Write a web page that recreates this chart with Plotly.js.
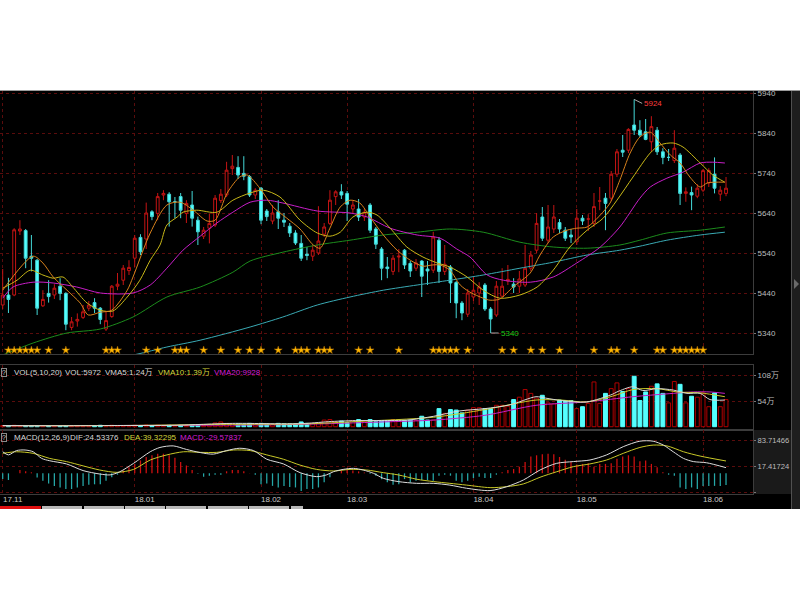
<!DOCTYPE html>
<html><head><meta charset="utf-8">
<script src="https://cdn.plot.ly/plotly-3.0.1.min.js"></script>
<style>
html,body{margin:0;padding:0;background:#fff;width:800px;height:600px;overflow:hidden;}
#topline{position:absolute;left:0;top:90px;width:800px;height:1px;background:#9a9a9a;}
#screen{position:absolute;left:0;top:91px;width:800px;height:418px;background:#000;overflow:hidden;}
#chart{position:absolute;left:0;top:0;width:800px;height:418px;}
#side{position:absolute;left:791px;top:0;width:9px;height:418px;background:#1e1e1e;border-left:1px solid #505050;box-sizing:border-box;}
#tri{position:absolute;left:2px;top:188px;width:0;height:0;border-top:5px solid transparent;border-bottom:5px solid transparent;border-left:5px solid #6a6a6a;}
.tab{position:absolute;top:415px;height:3px;background:#b8b8b8;}
</style></head>
<body>
<div id="topline"></div>
<div id="screen">
  <div id="chart"></div>
  <div id="side"><div id="tri"></div></div>
  <div class="tab" style="left:0;width:41px;background:#e01010"></div>
  <div class="tab" style="left:42px;width:40px"></div>
  <div class="tab" style="left:84px;width:40px"></div>
  <div class="tab" style="left:125px;width:40px"></div>
  <div class="tab" style="left:166px;width:40px"></div>
  <div class="tab" style="left:208px;width:40px"></div>
  <div class="tab" style="left:249px;width:40px"></div>
  <div class="tab" style="left:291px;width:12px"></div>
</div>
<script>
// ---------------- DATA ----------------
const openP  = [5410,5435,5435,5595,5596,5532,5522,5408,5439,5435,5457,5439,5354,5370,5379,5402,5416,5402,5350,5381,
 5457,5472,5496,5527,5579,5575,5643,5639,5685,5687,5668,5681,5639,5660,5622,5582,5602,5610,5671,5685,
 5751,5754,5739,5731,5685,5702,5645,5620,5643,5622,5607,5590,5564,5537,5532,5540,5587,5614,5681,5693,
 5689,5650,5650,5630,5660,5600,5550,5505,5494,5530,5547,5514,5502,5520,5500,5497,5572,5494,5505,5466,
 5415,5387,5430,5440,5460,5400,5385,5432,5470,5462,5457,5460,5502,5547,5630,5572,5600,5616,5597,5585,
 5568,5627,5625,5614,5670,5677,5677,5737,5797,5797,5860,5847,5843,5818,5847,5793,5779,5771,5785,5689,
 5691,5682,5697,5715,5737,5687,5689];
const highP  = [5500,5478,5602,5622,5600,5585,5525,5447,5472,5462,5477,5442,5380,5389,5410,5420,5427,5405,5393,5460,
 5490,5510,5522,5585,5587,5666,5647,5690,5697,5692,5680,5690,5672,5695,5631,5605,5639,5685,5700,5768,
 5785,5782,5782,5735,5702,5705,5650,5660,5672,5640,5615,5597,5585,5555,5560,5657,5615,5697,5697,5712,
 5695,5672,5675,5650,5665,5605,5555,5530,5535,5550,5550,5520,5525,5522,5520,5593,5580,5560,5510,5470,
 5420,5450,5480,5467,5465,5405,5470,5502,5510,5477,5495,5560,5545,5640,5655,5660,5660,5625,5605,5600,
 5650,5635,5637,5690,5705,5690,5745,5800,5835,5852,5924,5872,5875,5882,5855,5802,5800,5847,5790,5704,
 5706,5712,5750,5752,5779,5707,5730];
const lowP   = [5400,5390,5432,5585,5502,5494,5385,5405,5416,5425,5422,5347,5347,5356,5375,5395,5390,5362,5345,5378,
 5447,5460,5485,5505,5535,5550,5622,5622,5672,5606,5627,5627,5615,5606,5560,5575,5564,5605,5665,5680,
 5735,5725,5722,5680,5675,5612,5620,5612,5600,5605,5580,5560,5520,5522,5520,5535,5580,5610,5660,5675,
 5620,5640,5620,5620,5590,5550,5472,5477,5485,5492,5500,5480,5495,5430,5460,5490,5465,5485,5415,5377,
 5372,5380,5420,5410,5395,5340,5380,5430,5460,5440,5440,5455,5495,5540,5570,5565,5590,5590,5570,5565,
 5560,5610,5595,5605,5647,5597,5670,5730,5780,5790,5835,5830,5822,5793,5785,5762,5770,5765,5660,5668,
 5647,5677,5692,5705,5689,5670,5682];
const closeP = [5435,5424,5598,5600,5527,5527,5402,5424,5431,5452,5439,5362,5368,5374,5393,5410,5402,5374,5371,5457,
 5462,5502,5504,5577,5543,5640,5631,5681,5689,5668,5668,5647,5664,5627,5593,5597,5614,5677,5687,5747,
 5757,5735,5732,5685,5697,5622,5631,5640,5627,5617,5590,5565,5527,5534,5547,5570,5605,5672,5693,5685,
 5662,5660,5630,5642,5597,5562,5502,5501,5527,5532,5510,5495,5515,5482,5495,5580,5494,5512,5465,5415,
 5390,5440,5447,5455,5400,5375,5457,5457,5474,5455,5475,5502,5535,5614,5577,5605,5630,5600,5577,5580,
 5627,5620,5625,5656,5670,5664,5737,5793,5792,5849,5847,5835,5824,5856,5793,5779,5779,5802,5689,5693,
 5685,5702,5746,5746,5702,5697,5702];

// volume, in 万
const volume = [2.5,2,3,2,2,2,2.5,1.5,1.5,1.5,1.5,2,1.5,1.5,1.5,1.5,2,3,2.5,3,
 2.5,2.5,2.5,3,2.5,3.5,2.5,3,2.5,3,2.5,3,2.5,3.5,3.5,3,5,8,10,7,
 6,6,5,7,6,7,5.5,4,7,6,6,6,10,7,7,8,14,15,10.5,12,
 8.5,12.5,15,12,15,10.5,12,12,15,14,13,14,13,22,14,14,38,28,36,35,
 29,35,40,40,38,38,45,45,43,57,62,78,70,60,66,50,48,56,55,55,
 38,42,49,94,49,70,80,92,74,80,106,55,73,85,90,70,50,95,89,50,
 64,62,71,42,71,42,57];

// MACD histogram
const macdHist = [-14.7,-17,0.5,8.7,5.2,2.6,-10.4,-19,-26,-32,-36,-40,-40,-36,-32,-29,-28,-28,-19,-10,
 -3.5,7,15.6,24,33,41.6,46,50,50,46,40,28.6,20,8.7,-1,-8.7,-6,-3.5,-3.5,5.2,
 8.7,8.7,5.2,0.5,-3.5,-28,-26,-32,-36,-32,-35,-36,-45,-40,-40,-36,-23,-10,0.5,7,
 8.7,7,5,2,-2,-6,-15,-23,-29,-28,-14.7,-23,-19,-17,-17,-19,-6,-3.5,-6,-19,
 -23,-19,-12,-8.7,-12,-12,-3.5,2.6,8.7,11,17,28.6,43,46,48.5,50,48.5,41.6,34.7,28.6,
 22.5,24,26,17,24,24,26,37,43,46,43,31,33,24,15.6,2.6,-3.5,-6,-36,-40,
 -36,-40,-32,-32,-32,-32,-29.6];

// moving averages (index, value)
const ma5Idx = [0,5.3,7,8.8,11.2,13.5,14.9,17,19,21.7,22.7,25.7,28.6,30.9,33.2,35.6,37,39.1,41.3,42.6,44.8,47.1,49.5,51.8,54.1,55.3,57,58.8,60.5,62.2,64,66.3,68.7,71,73.2,74.8,76.2,77.9,79.7,81.4,83.7,84.9,86.6,88.9,91.9,93.6,95.9,98.3,100,101.8,104.1,105.8,107.5,109.3,111,112.8,114.5,116.3,118,119.7,121.5,122.7,124.1,125.8];
const ma5Val = [5447,5532,5515,5480,5447,5415,5385,5392,5397,5447,5480,5590,5660,5667,5647,5620,5622,5690,5730,5735,5702,5655,5627,5600,5560,5552,5602,5655,5672,5665,5630,5585,5547,5522,5507,5510,5510,5497,5460,5442,5427,5422,5425,5455,5490,5535,5580,5597,5602,5605,5635,5665,5722,5790,5830,5842,5815,5785,5765,5730,5705,5715,5717,5717];
const ma10Idx = [0,2.5,4.8,7,8.8,10.5,12.2,14.7,17,19.2,21.7,23.9,25.7,27.4,28.6,30.4,31.4,33.8,37.3,40.1,43.1,45.4,48.3,51.8,54.8,57,58.8,61,63.5,65.2,67.5,70.4,73.2,75.7,77.9,80.9,83.7,86.6,90.1,93.1,95.9,98.8,101.8,104.6,107,109.8,112.8,114.5,116.8,118.5,121.5,123.7,125.8];
const ma10Val = [5452,5472,5497,5485,5477,5480,5455,5415,5397,5395,5430,5472,5522,5560,5610,5630,5642,5647,5642,5672,5690,5697,5680,5622,5590,5582,5592,5630,5642,5635,5602,5555,5530,5515,5505,5480,5447,5427,5435,5455,5497,5555,5597,5627,5672,5730,5790,5810,5815,5805,5765,5735,5717];
const ma20Idx = [0,1.8,5.3,8.8,12.9,17,22.7,25.7,28.6,31.4,34.4,37.3,40.1,43.1,46,48.8,54.8,60.5,63.5,67.5,72.2,76.2,79.1,81.4,84.4,87.2,91.9,95.9,100,104.1,107.5,111,112.8,115.7,118.5,121.5,123.7,125.8];
const ma20Val = [5427,5455,5467,5465,5455,5440,5440,5460,5502,5547,5582,5615,5642,5667,5672,5665,5645,5640,5630,5602,5585,5577,5550,5530,5485,5472,5467,5480,5515,5555,5605,5677,5705,5727,5742,5765,5767,5765];
const ma60Idx = [0,5.3,11.2,17,22.7,28.6,34.4,40.1,43.1,48.8,54.8,60.5,66.3,72.2,77.9,83.7,90.1,95.9,101.8,107.5,111,115.7,121.5,125.8];
const ma60Val = [5285,5315,5340,5350,5380,5430,5455,5492,5520,5542,5560,5572,5585,5592,5600,5592,5567,5555,5552,5560,5572,5590,5597,5605];
const ma120Idx = [20,23.4,28.6,34.4,43.1,48.8,54.8,60.5,66.3,72.2,77.9,83.7,90.1,95.9,101.8,107.5,111,115.7,121.5,125.8];
const ma120Val = [5278,5287,5305,5322,5355,5380,5410,5430,5447,5460,5472,5485,5502,5517,5535,5547,5557,5572,5585,5592];

// volume moving averages (index, 万)
const vma5Idx = [0,10,20,30,40,50,52.8,57.3,62,66,70.6,75.1,79.5,84,88.4,92.9,94.6,97.3,101.7,106.2,107,109.8,111.5,114,116.8,119.2,121.5,123.2,125.8];
const vma5Val = [2.5,2,2.5,3,7,6,7,11,13,13,14,22,33,38,46,63,60,55,52,68,73,84,76,80,77,70,70,57,56];
const vma10Idx = [0,20,40,52.8,61.8,75.1,84,92.9,97.3,101.7,106.2,109.8,114,117.5,121.5,125.8];
const vma10Val = [2,2.5,5,6,11,20,36,56,56,52,64,78,80,73,71,63];
const vma20Idx = [0,40,52,66.2,75.1,84,92.9,101.7,109.8,115.7,120.3,123.2,125.8];
const vma20Val = [2,3.5,5,10,14,24,45,52,63,69,73,73,70];

// DIF / DEA (index, value)
const difIdx = [0,1,2.4,3.9,5.3,6.8,8.2,11.1,14,16.9,18.7,20.4,22.8,25.7,27.4,29.7,32,34.4,36.7,39,41.3,43.7,46,48.9,51.8,54.7,56.4,57.6,59.3,61.1,62.8,64.6,66.3,68.9,72.1,75,77.9,80.8,84.9,87.8,90.7,93.6,96.5,99.4,102.3,105.2,108.1,111,113.3,115.1,116.8,118.6,120.3,122.6,126];
const difVal = [55,47,58,59.5,55,38,32,24,7,-1.7,-4,4,25.5,55,66,70,61,53,49,58,64,58,36,24,1.7,-8.5,-4,4,10,12.7,8.5,0,-12.7,-21,-25.5,-25.5,-30,-38,-44,-34,-17,8.5,25.5,30,34,47,68,82,82,72,55,38,30,27,14.5];
const deaIdx = [0,2.4,5.3,8.2,11.1,14,16.9,19.9,22.8,25.7,28.6,31.5,34.4,37.3,40.2,43.1,46,48.9,51.8,54.7,57.6,60.5,63.4,66.3,68.9,72.1,75,77.9,80.8,84.9,87.8,90.7,93.6,96.5,99.4,102.3,105.2,108.1,111,113.3,115.7,118.6,121.5,126];
const deaVal = [51,55,51,38,30,19,8.5,2.5,10,34,47,55,53.5,53.5,59.5,58,47,36,21,10,6,10,8.5,1.7,-4,-15,-21,-25.5,-30,-36.5,-34,-27,-10,4,17,24,34,51,66,72,70,55,44,31.5];

// signal stars (candle indices)
const starIdx = [1,2,3,4,5,6,8,11,18,19,20,25,27,30,31,32,35,38,41,43,45,48,51,52,53,55,56,57,62,64,69,75,76,77,78,79,81,87,89,92,94,97,103,106,107,110,114,115,117,118,119,120,121,122];

// axis ticks
const monthIdx = [0,23,45,60,82,100,122];
const monthLabels = ['17.11','18.01','18.02','18.03','18.04','18.05','18.06'];
const priceTicks = [5340,5440,5540,5640,5740,5840,5940];
const volTicks = [54,108];
const volTickText = ['54万','108万'];
const macdTicks = [-48.87018,17.41724,83.71466];
const macdTickText = ['','17.41724','83.71466'];

// extremes labels
const highLabel = {idx:110, value:5924, text:'5924'};
const lowLabel = {idx:85, value:5340, text:'5340'};

// header texts
const volHeader = [
  {text:'VOL(5,10,20)', color:'#d8d8d8', px:12},
  {text:'VOL:5972', color:'#d8d8d8', px:63},
  {text:'VMA5:1.24万', color:'#d8d8d8', px:103},
  {text:'VMA10:1.39万', color:'#d4d43c', px:156},
  {text:'VMA20:9928', color:'#d21ed2', px:212}
];
const macdHeader = [
  {text:'MACD(12,26,9)', color:'#d8d8d8', px:12},
  {text:'DIF:24.53376', color:'#d8d8d8', px:68},
  {text:'DEA:39.32295', color:'#d4d43c', px:122},
  {text:'MACD:-29.57837', color:'#d21ed2', px:178}
];

// ---------------- STYLE ----------------
const FONT = 'Liberation Sans, Arial, Noto Sans CJK SC, sans-serif';
const GRID = '#5a0c0c';
const BORDER = '#3c3c3c';
const UP = '#c41414', DOWN = '#54ffff', DOWN_LINE = '#44d8d8';
const PLOT_W = 753;
const R_MARGIN = 47;
const STAR_LEVEL = 5297;

const idx = openP.map((_, i) => i);
const isUp = idx.map(i => closeP[i] >= openP[i]);

const traces = [];
traces.push({
  type:'candlestick', x:idx, open:openP, high:highP, low:lowP, close:closeP,
  xaxis:'x', yaxis:'y', hoverinfo:'none', whiskerwidth:0,
  increasing:{line:{color:UP, width:1}, fillcolor:'#000000'},
  decreasing:{line:{color:DOWN_LINE, width:1}, fillcolor:DOWN}
});
function line(xs, ys, color, xa, ya, w) {
  return {type:'scatter', mode:'lines', x:xs, y:ys, xaxis:xa, yaxis:ya, hoverinfo:'none',
    line:{color:color, width:w||1, shape:'spline', smoothing:0.8}};
}
traces.push(line(ma120Idx, ma120Val, '#3aaab4', 'x', 'y'));
traces.push(line(ma60Idx, ma60Val, '#1c8c1c', 'x', 'y'));
traces.push(line(ma20Idx, ma20Val, '#c81ec8', 'x', 'y'));
traces.push(line(ma10Idx, ma10Val, '#c8b818', 'x', 'y'));
traces.push(line(ma5Idx, ma5Val, '#d8821c', 'x', 'y'));
traces.push({type:'scatter', mode:'markers', x:starIdx, y:starIdx.map(() => STAR_LEVEL),
  xaxis:'x', yaxis:'y', hoverinfo:'none',
  marker:{symbol:'star', size:6, color:'#ffb800', line:{color:'#9a6000', width:0.5}}});

traces.push({type:'bar', x:idx, y:volume, xaxis:'x2', yaxis:'y2', width:0.68, hoverinfo:'none',
  marker:{color:isUp.map(u => u ? '#000000' : DOWN), line:{color:isUp.map(u => u ? '#b00000' : DOWN), width:1}}});
traces.push(line(vma20Idx, vma20Val, '#c81ec8', 'x2', 'y2'));
traces.push(line(vma10Idx, vma10Val, '#c8c828', 'x2', 'y2'));
traces.push(line(vma5Idx, vma5Val, '#d8d8d8', 'x2', 'y2'));

traces.push({type:'bar', x:idx, y:macdHist, xaxis:'x3', yaxis:'y3', width:0.22, hoverinfo:'none',
  marker:{color:macdHist.map(v => v >= 0 ? '#d01010' : '#26a8a8'), line:{width:0}}});
traces.push(line(deaIdx, deaVal, '#c8c828', 'x3', 'y3'));
traces.push(line(difIdx, difVal, '#dcdcdc', 'x3', 'y3'));

const xRange = [-0.47, 130.7];
function xa(extra) {
  return Object.assign({
    range:xRange, tickvals:monthIdx, ticktext:monthLabels, showgrid:true, gridcolor:GRID,
    griddash:'dot', gridwidth:1, zeroline:false, showline:true, mirror:true, linecolor:BORDER,
    showticklabels:false, ticks:'', fixedrange:true
  }, extra);
}
function ya(extra) {
  return Object.assign({
    side:'right', showgrid:true, gridcolor:GRID, griddash:'dot', gridwidth:1, zeroline:false,
    showline:true, mirror:true, linecolor:BORDER, ticks:'outside', ticklen:2, tickcolor:'#777',
    ticklabeloverflow:'allow', ticklabelstandoff:0,
    tickfont:{size:8, color:'#bdbdbd', family:FONT}, fixedrange:true
  }, extra);
}
// domains from page pixels: plot area spans page y 91..494
const toDom = (yTop, yBot) => [(494 - yBot) / 403, (494 - yTop) / 403];

const annotations = [];
function header(items, yPage) {
  const yy = (494 - yPage) / 403;
  annotations.push({xref:'paper', yref:'paper', x:1/PLOT_W, y:yy, xanchor:'left', yanchor:'middle',
    text:'?', showarrow:false, font:{size:7, color:'#cfcfcf', family:FONT},
    bordercolor:'#8a8a8a', borderwidth:1, borderpad:0});
  items.forEach(it => annotations.push({xref:'paper', yref:'paper', x:it.px/PLOT_W, y:yy,
    xanchor:'left', yanchor:'middle', text:it.text, showarrow:false,
    font:{size:8, color:it.color, family:FONT}}));
}
header(volHeader, 372);
header(macdHeader, 437);
annotations.push({xref:'x', yref:'y', x:highLabel.idx, y:highLabel.value, text:highLabel.text,
  showarrow:true, arrowhead:0, arrowwidth:1, arrowcolor:'#a8a8a8', ax:8, ay:4, xanchor:'left',
  standoff:0, font:{size:8, color:'#ff3c3c', family:FONT}});
annotations.push({xref:'x', yref:'y', x:lowLabel.idx, y:lowLabel.value, text:lowLabel.text,
  showarrow:true, arrowhead:0, arrowwidth:1, arrowcolor:'#a8a8a8', ax:8, ay:0, xanchor:'left',
  standoff:0, font:{size:8, color:'#18c818', family:FONT}});

const layout = {
  width:800, height:418, margin:{l:0, r:R_MARGIN, t:0, b:15, pad:0},
  paper_bgcolor:'#000000', plot_bgcolor:'#000000', showlegend:false,
  font:{family:FONT, size:8, color:'#bdbdbd'},
  xaxis: xa({anchor:'y', domain:[0,1], rangeslider:{visible:false}}),
  xaxis2: xa({anchor:'y2', domain:[0,1], matches:'x'}),
  xaxis3: xa({anchor:'y3', domain:[0,1], matches:'x', showticklabels:true,
    tickfont:{size:8, color:'#c8c8c8', family:FONT}, ticklabelshift:10, ticklabelstandoff:-3}),
  yaxis: ya({anchor:'x', domain:toDom(91, 354), range:[5287.5, 5945], tickvals:priceTicks}),
  yaxis2: ya({anchor:'x2', domain:toDom(365, 430), range:[-6.9, 129.6], tickvals:volTicks, ticktext:volTickText}),
  yaxis3: ya({anchor:'x3', domain:toDom(430, 494), range:[-52.7, 110.5], tickvals:macdTicks, ticktext:macdTickText,
    tickfont:{size:7.6, color:'#bdbdbd', family:FONT}}),
  shapes:[{type:'rect', xref:'paper', yref:'paper', x0:1, x1:1 + 38/PLOT_W, y0:0, y1:64/403,
    fillcolor:'#1a1a1a', line:{width:0}, layer:'below'}],
  annotations:annotations,
  hovermode:false, dragmode:false
};
Plotly.newPlot('chart', traces, layout, {staticPlot:true, displayModeBar:false});
</script>
</body></html>
